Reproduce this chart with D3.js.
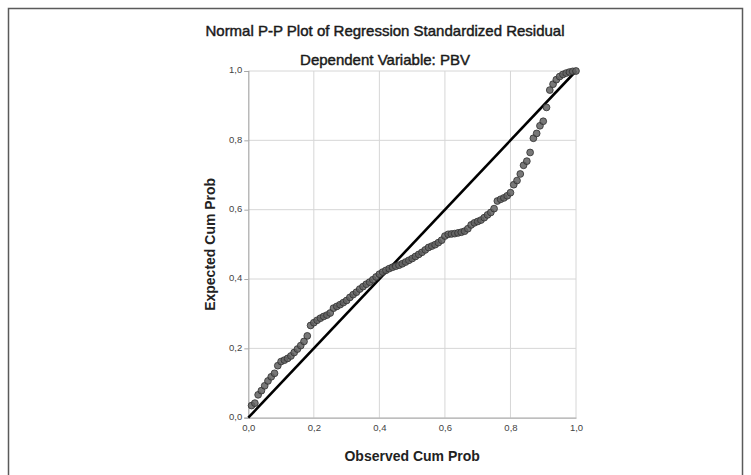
<!DOCTYPE html>
<html>
<head>
<meta charset="utf-8">
<script src="https://cdn.jsdelivr.net/npm/d3@7"></script>
<style>
  html, body { margin: 0; padding: 0; background: #fff; }
  svg { display: block; font-family: "Liberation Sans", Arial, sans-serif; }
</style>
</head>
<body>
<svg id="chart" width="751" height="475"></svg>
<script>
// ---- data ----
const chartTitle = "Normal P-P Plot of Regression Standardized Residual";
const chartSubtitle = "Dependent Variable: PBV";
const xAxisTitle = "Observed Cum Prob";
const yAxisTitle = "Expected Cum Prob";
const tickValues = [0, 0.2, 0.4, 0.6, 0.8, 1.0];
const tickLabels = ["0,0", "0,2", "0,4", "0,6", "0,8", "1,0"];

const observedCumProb = [
  0.01,0.02,0.03,0.04,0.05,0.06,0.07,0.08,0.09,0.10,
  0.11,0.12,0.13,0.14,0.15,0.16,0.17,0.18,0.19,0.20,
  0.21,0.22,0.23,0.24,0.25,0.26,0.27,0.28,0.29,0.30,
  0.31,0.32,0.33,0.34,0.35,0.36,0.37,0.38,0.39,0.40,
  0.41,0.42,0.43,0.44,0.45,0.46,0.47,0.48,0.49,0.50,
  0.51,0.52,0.53,0.54,0.55,0.56,0.57,0.58,0.59,0.60,
  0.61,0.62,0.63,0.64,0.65,0.66,0.67,0.68,0.69,0.70,
  0.71,0.72,0.73,0.74,0.75,0.76,0.77,0.78,0.79,0.80,
  0.81,0.82,0.83,0.84,0.85,0.86,0.87,0.88,0.89,0.90,
  0.91,0.92,0.93,0.94,0.95,0.96,0.97,0.98,0.99,1.00
];
const expectedCumProb = [
  0.035,0.042,0.066,0.078,0.092,0.106,0.118,0.128,0.150,0.162,
  0.166,0.171,0.178,0.188,0.198,0.208,0.220,0.236,0.266,0.274,
  0.281,0.287,0.292,0.296,0.302,0.316,0.321,0.326,0.332,0.338,
  0.347,0.355,0.362,0.371,0.378,0.385,0.391,0.398,0.406,0.414,
  0.420,0.425,0.430,0.434,0.437,0.440,0.444,0.449,0.454,0.459,
  0.465,0.471,0.477,0.484,0.491,0.495,0.499,0.505,0.512,0.524,
  0.529,0.530,0.531,0.533,0.535,0.538,0.545,0.556,0.562,0.566,
  0.570,0.577,0.585,0.592,0.603,0.625,0.630,0.634,0.640,0.649,
  0.672,0.684,0.703,0.728,0.740,0.765,0.806,0.820,0.842,0.855,
  0.895,0.945,0.962,0.975,0.984,0.990,0.994,0.997,0.999,1.000
];
const referenceLine = [[0, 0], [1, 1]];

// ---- drawing ----
const svg = d3.select("#chart");

// outer frame
svg.append("rect")
  .attr("x", 8.5).attr("y", 8.5)
  .attr("width", 734).attr("height", 480)
  .attr("fill", "none").attr("stroke", "#5a5a5a").attr("stroke-width", 1.5);

const plot = { left: 248.3, right: 576, top: 71, bottom: 417.7 };
const x = d3.scaleLinear().domain([0, 1]).range([plot.left, plot.right]);
const y = d3.scaleLinear().domain([0, 1]).range([plot.bottom, plot.top]);

// gridlines
const grid = svg.append("g");
grid.selectAll("line.v").data(tickValues.slice(1)).join("line")
  .attr("x1", d => x(d)).attr("x2", d => x(d))
  .attr("y1", plot.top).attr("y2", plot.bottom)
  .attr("stroke", "#d6d6d6").attr("stroke-width", 1);
grid.selectAll("line.h").data(tickValues.slice(1)).join("line")
  .attr("x1", plot.left).attr("x2", plot.right)
  .attr("y1", d => y(d)).attr("y2", d => y(d))
  .attr("stroke", "#d6d6d6").attr("stroke-width", 1);

// axes
const xAxis = d3.axisBottom(x).tickValues(tickValues)
  .tickFormat((d, i) => tickLabels[i]).tickSize(0).tickPadding(7);
const yAxis = d3.axisLeft(y).tickValues(tickValues)
  .tickFormat((d, i) => tickLabels[i]).tickSize(4).tickPadding(2);

const gx = svg.append("g").attr("transform", `translate(0,${plot.bottom})`).call(xAxis);
const gy = svg.append("g").attr("transform", `translate(${plot.left},0)`).call(yAxis);
[gx, gy].forEach(g => {
  g.select(".domain").attr("stroke", "#a8a8a8").attr("stroke-width", 1.2);
  g.selectAll(".tick line").attr("stroke", "#a8a8a8");
  g.selectAll(".tick text")
    .attr("font-family", "'Liberation Sans', Arial, sans-serif")
    .attr("font-size", 9.5).attr("fill", "#444");
});
gy.selectAll(".tick text").attr("dy", "0.2em");

// reference line
svg.append("path")
  .datum(referenceLine)
  .attr("d", d3.line().x(d => x(d[0])).y(d => y(d[1])))
  .attr("stroke", "#000").attr("stroke-width", 2.6).attr("fill", "none");

// points
svg.append("g").selectAll("circle")
  .data(observedCumProb.map((o, i) => [o, expectedCumProb[i]]))
  .join("circle")
  .attr("cx", d => x(d[0])).attr("cy", d => y(d[1]))
  .attr("r", 3.4)
  .attr("fill", "#606060").attr("fill-opacity", 0.85)
  .attr("stroke", "#2e2e2e").attr("stroke-width", 0.8);

// titles
svg.append("text").attr("x", 385).attr("y", 36)
  .attr("text-anchor", "middle").attr("font-size", 15)
  .attr("fill", "#1a1a1a").attr("stroke", "#1a1a1a").attr("stroke-width", 0.45)
  .text(chartTitle);
svg.append("text").attr("x", 385).attr("y", 65)
  .attr("text-anchor", "middle").attr("font-size", 15)
  .attr("fill", "#1a1a1a").attr("stroke", "#1a1a1a").attr("stroke-width", 0.45)
  .text(chartSubtitle);
svg.append("text").attr("x", (plot.left + plot.right) / 2).attr("y", 461)
  .attr("text-anchor", "middle").attr("font-size", 14).attr("font-weight", "bold")
  .attr("fill", "#222").text(xAxisTitle);
svg.append("text")
  .attr("transform", `translate(215,${(plot.top + plot.bottom) / 2}) rotate(-90)`)
  .attr("text-anchor", "middle").attr("font-size", 14).attr("font-weight", "bold")
  .attr("fill", "#222").text(yAxisTitle);
</script>
</body>
</html>
